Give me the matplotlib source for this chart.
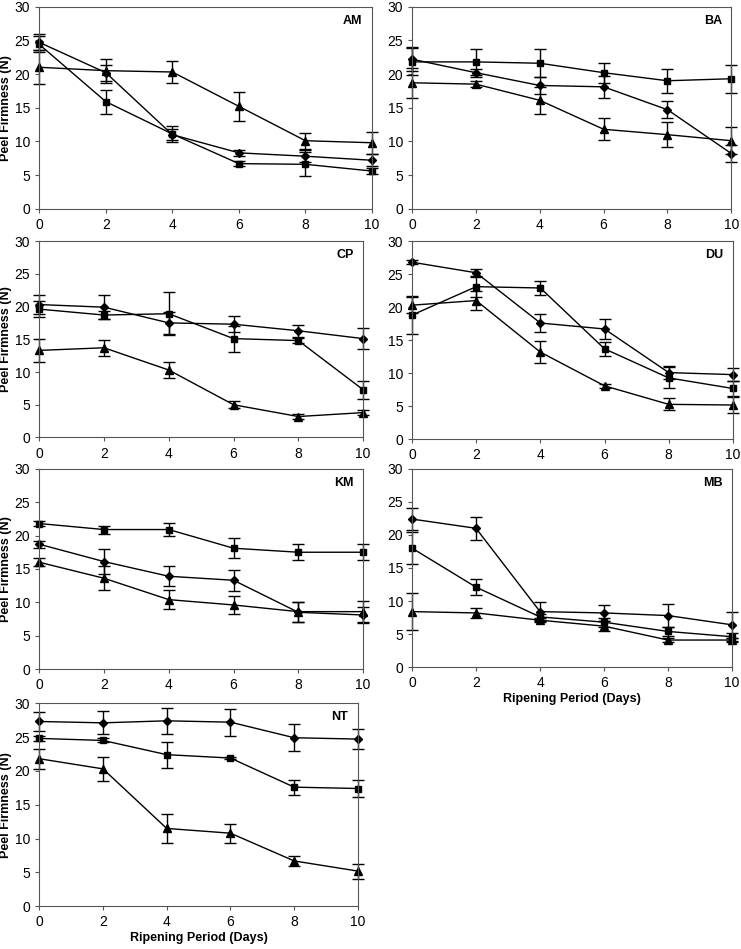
import matplotlib.pyplot as plt

plt.rcParams['font.family'] = ['Liberation Sans', 'DejaVu Sans']

days = [0, 2, 4, 6, 8, 10]

# diamond / square / triangle series, with error bar half-widths
am_dia = [24.7, 20.2, 11.0, 8.3, 7.8, 7.2]
am_dia_err = [1.2, 1.2, 0.8, 0.4, 0.9, 0.9]
am_sq = [24.4, 15.9, 11.1, 6.7, 6.6, 5.6]
am_sq_err = [1.2, 1.8, 1.2, 0.4, 1.8, 0.5]
am_tri = [21.0, 20.5, 20.3, 15.2, 10.1, 9.8]
am_tri_err = [2.5, 1.8, 1.7, 2.2, 1.2, 1.6]

ba_dia = [22.2, 20.2, 18.3, 18.1, 14.7, 8.2]
ba_dia_err = [1.8, 0.6, 1.2, 1.6, 1.3, 1.2]
ba_sq = [21.8, 21.8, 21.6, 20.2, 19.0, 19.3]
ba_sq_err = [2.0, 1.9, 2.1, 1.5, 1.8, 2.1]
ba_tri = [18.7, 18.5, 16.1, 11.8, 11.0, 10.1]
ba_tri_err = [2.2, 0.4, 2.0, 1.6, 1.9, 2.0]

cp_dia = [20.3, 19.9, 17.5, 17.3, 16.3, 15.1]
cp_dia_err = [1.5, 1.8, 1.7, 1.2, 0.9, 1.6]
cp_sq = [19.6, 18.7, 18.9, 15.1, 14.8, 7.3]
cp_sq_err = [1.2, 0.6, 3.3, 2.0, 0.4, 1.4]
cp_tri = [13.3, 13.7, 10.3, 5.0, 3.2, 3.8]
cp_tri_err = [1.7, 1.2, 1.2, 0.5, 0.4, 0.4]

du_dia = [26.8, 25.2, 17.6, 16.7, 10.1, 9.8]
du_dia_err = [0.3, 0.5, 1.3, 1.5, 1.0, 1.0]
du_sq = [18.8, 23.1, 22.9, 13.7, 9.3, 7.7]
du_sq_err = [2.9, 1.5, 1.1, 1.1, 1.6, 1.2]
du_tri = [20.3, 21.0, 13.2, 8.1, 5.3, 5.2]
du_tri_err = [1.2, 1.5, 1.7, 0.3, 0.9, 1.2]

km_dia = [18.7, 16.1, 13.9, 13.3, 8.5, 8.1]
km_dia_err = [0.5, 1.9, 1.5, 1.6, 1.5, 1.2]
km_sq = [21.8, 20.9, 20.9, 18.1, 17.5, 17.5]
km_sq_err = [0.4, 0.6, 1.0, 1.5, 1.2, 1.2]
km_tri = [16.0, 13.6, 10.4, 9.6, 8.6, 8.6]
km_tri_err = [0.6, 1.8, 1.4, 1.3, 1.5, 1.6]

mb_dia = [22.4, 21.0, 8.4, 8.2, 7.8, 6.4]
mb_dia_err = [1.6, 1.7, 1.4, 1.2, 1.7, 2.0]
mb_sq = [18.0, 12.1, 7.6, 6.8, 5.4, 4.6]
mb_sq_err = [2.4, 1.2, 0.5, 0.7, 0.7, 0.6]
mb_tri = [8.4, 8.2, 7.1, 6.2, 4.1, 4.1]
mb_tri_err = [2.8, 0.8, 0.3, 0.8, 0.3, 0.3]

nt_dia = [27.3, 27.1, 27.4, 27.2, 24.9, 24.7]
nt_dia_err = [1.4, 1.7, 1.9, 2.0, 2.0, 1.5]
nt_sq = [24.8, 24.5, 22.4, 21.9, 17.6, 17.4]
nt_sq_err = [0.4, 0.3, 1.9, 0.2, 1.1, 1.2]
nt_tri = [21.8, 20.3, 11.5, 10.8, 6.7, 5.2]
nt_tri_err = [1.5, 1.8, 2.1, 1.4, 0.8, 1.1]

panels = [
    ('AM', [0.053, 0.780, 0.449, 0.213], am_dia, am_dia_err, am_sq, am_sq_err, am_tri, am_tri_err, True, False),
    ('BA', [0.556, 0.780, 0.431, 0.213], ba_dia, ba_dia_err, ba_sq, ba_sq_err, ba_tri, ba_tri_err, False, False),
    ('CP', [0.053, 0.539, 0.437, 0.207], cp_dia, cp_dia_err, cp_sq, cp_sq_err, cp_tri, cp_tri_err, True, False),
    ('DU', [0.556, 0.537, 0.433, 0.209], du_dia, du_dia_err, du_sq, du_sq_err, du_tri, du_tri_err, False, False),
    ('KM', [0.053, 0.295, 0.437, 0.211], km_dia, km_dia_err, km_sq, km_sq_err, km_tri, km_tri_err, True, False),
    ('MB', [0.556, 0.297, 0.432, 0.209], mb_dia, mb_dia_err, mb_sq, mb_sq_err, mb_tri, mb_tri_err, False, True),
    ('NT', [0.053, 0.045, 0.430, 0.214], nt_dia, nt_dia_err, nt_sq, nt_sq_err, nt_tri, nt_tri_err, True, True),
]

fig = plt.figure(figsize=(7.41, 9.49), dpi=100)

for name, rect, dia, dia_e, sq, sq_e, tri, tri_e, ylab, xlab in panels:
    ax = fig.add_axes(rect)
    for y, e, m, ms in [(dia, dia_e, 'D', 4), (sq, sq_e, 's', 5), (tri, tri_e, '^', 6)]:
        ax.errorbar(days, y, yerr=e, color='black', marker=m, markersize=ms,
                    linewidth=1, elinewidth=1, capsize=4, capthick=1, clip_on=False)
    ax.set_xlim(0, 10)
    ax.set_ylim(0, 30)
    ax.set_xticks(days)
    ax.set_yticks([0, 5, 10, 15, 20, 25, 30])
    ax.tick_params(labelsize=10, length=3, color='#555555')
    for s in ax.spines.values():
        s.set_color('#555555')
    ax.text(0.97, 0.93, name, transform=ax.transAxes, ha='right', va='center',
            fontsize=9, fontweight='bold')
    if ylab:
        ax.set_ylabel('Peel Firmness (N)', fontsize=9, fontweight='bold', labelpad=2)
    if xlab:
        ax.set_xlabel('Ripening Period (Days)', fontsize=9, fontweight='bold', labelpad=2)

fig.savefig('out.png', dpi=100)
